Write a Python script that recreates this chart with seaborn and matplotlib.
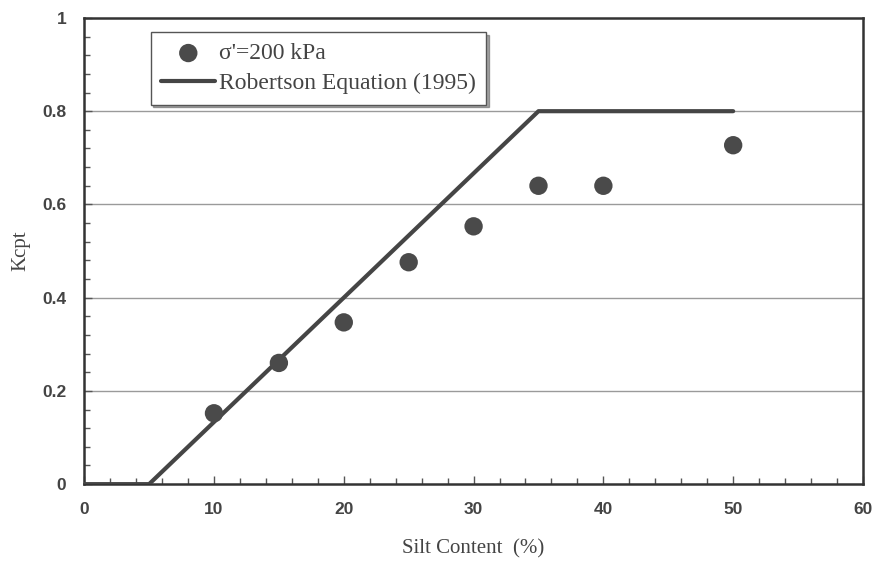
import matplotlib

matplotlib.use('Agg')
import matplotlib.pyplot as plt
import seaborn as sns
import pandas as pd
from matplotlib.ticker import MultipleLocator

# measured points (sigma' = 200 kPa)
silt = [10, 15, 20, 25, 30, 35, 40, 50]
kcpt = [0.152, 0.26, 0.347, 0.476, 0.553, 0.64, 0.64, 0.727]

# Robertson (1995) relation
rob_fc = [0, 5, 35, 50]
rob_k = [0, 0, 0.8, 0.8]

sns.set_style('white')
plt.rcParams['font.family'] = ['Liberation Serif', 'DejaVu Serif']

fig = plt.figure(figsize=(8.77, 5.61), dpi=100)
ax = fig.add_axes([0.096, 0.137, 0.888, 0.831])

for y in [0.2, 0.4, 0.6, 0.8]:
    ax.axhline(y, color='#9a9a9a', lw=1, zorder=0)

sns.lineplot(x=rob_fc, y=rob_k, ax=ax, color='#454545', lw=3,
             label='Robertson Equation (1995)', zorder=3)
sns.scatterplot(x=silt, y=kcpt, ax=ax, color='#4a4a4a', s=175,
                edgecolor='none', label="σ'=200 kPa", zorder=4)

ax.set_xlim(0, 60)
ax.set_ylim(0, 1)
ax.xaxis.set_major_locator(MultipleLocator(10))
ax.xaxis.set_minor_locator(MultipleLocator(2))
ax.yaxis.set_major_locator(MultipleLocator(0.2))
ax.yaxis.set_minor_locator(MultipleLocator(0.04))
ax.set_yticks([0, 0.2, 0.4, 0.6, 0.8, 1.0], ['0', '0.2', '0.4', '0.6', '0.8', '1'])

for s in ax.spines.values():
    s.set_color('#333333')
    s.set_linewidth(1.8)

ax.tick_params(which='both', direction='in', color='#555555', left=True, bottom=True)
ax.tick_params(which='major', length=6, width=1, pad=13)
ax.tick_params(which='minor', length=4, width=1)
for lbl in ax.get_xticklabels() + ax.get_yticklabels():
    lbl.set_family(['Liberation Sans', 'DejaVu Sans'])
    lbl.set_fontweight('bold')
    lbl.set_fontsize(12.5)
    lbl.set_color('#444444')

ax.set_xlabel('Silt Content  (%)', fontsize=15, color='#444444', labelpad=16)
ax.set_ylabel('Kcpt', fontsize=15, color='#444444', labelpad=8)

handles, labels = ax.get_legend_handles_labels()
leg = ax.legend(handles[::-1], labels[::-1], loc='upper left',
                bbox_to_anchor=(0.07, 0.995), fontsize=17, frameon=True,
                fancybox=False, shadow=True, borderpad=0.45,
                handlelength=2.3, handletextpad=0.15, labelspacing=0.35,
                edgecolor='#555555', framealpha=1)
leg.get_frame().set_linewidth(1)
for t in leg.get_texts():
    t.set_color('#444444')

fig.savefig('out.png', dpi=100)
